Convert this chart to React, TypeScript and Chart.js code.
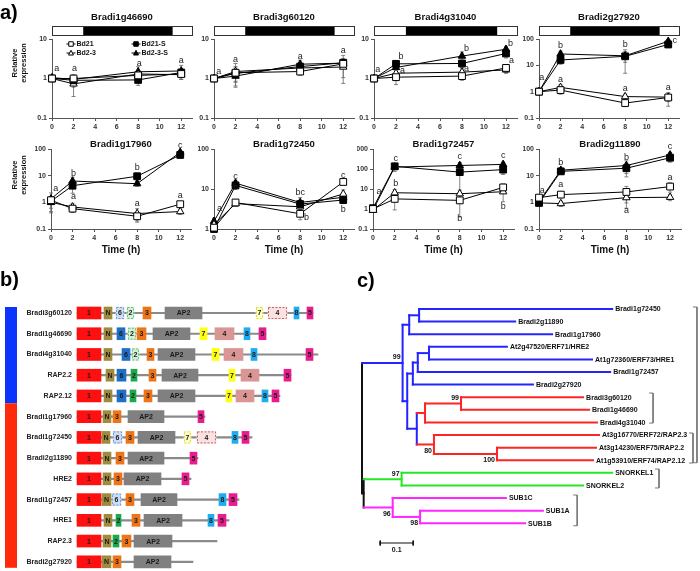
import React, { useEffect, useRef } from 'react';
import { Chart, registerables } from 'chart.js';

Chart.register(...registerables);
const FONT = '"Liberation Sans", Arial, Helvetica, sans-serif';
Chart.defaults.font.family = FONT;
Chart.defaults.color = '#222';

// ================= Panel a: expression time courses =================
const TIMES = [0, 2, 8, 12];
const SERIES_NAMES = ['Bd21', 'Bd21-S', 'Bd2-3', 'Bd2-3-S'];
const X_TICKS = [0, 2, 4, 6, 8, 10, 12];
const X_MAX = 13;
const DARK_START = 2.9;
const DARK_END = 11.2;

const GENES_A = ['Bradi1g46690', 'Bradi3g60120', 'Bradi4g31040', 'Bradi2g27920', 'Bradi1g17960', 'Bradi1g72450', 'Bradi1g72457', 'Bradi2g11890'];
const Y_MIN = [0.1, 0.1, 0.1, 0.1, 0.1, 1, 0.1, 0.1];
const Y_MAX = [10, 10, 10, 100, 100, 100, 1000, 100];
const Y_TICKS = [[0.1, 1, 10], [0.1, 1, 10], [0.1, 1, 10], [0.1, 1, 10, 100], [0.1, 1, 10, 100], [1, 10, 100], [0.1, 1, 10, 100, 1000], [0.1, 1, 10, 100]];

// values per series: [Bd21, Bd21-S, Bd2-3, Bd2-3-S] at times 0,2,8,12
const VAL_1g46690 = [[1.0, 1.0, 1.2, 1.3], [1.0, 0.9, 0.92, 1.42], [1.0, 0.73, 1.3, 1.25], [1.05, 0.95, 1.48, 1.55]];
const VAL_3g60120 = [[1.0, 1.4, 1.5, 2.35], [1.0, 1.35, 2.0, 2.5], [1.0, 1.5, 1.85, 1.95], [1.0, 1.15, 2.3, 2.45]];
const VAL_4g31040 = [[1.0, 1.08, 1.15, 1.85], [1.0, 2.35, 2.4, 4.3], [1.0, 1.36, 1.45, 1.65], [1.0, 1.9, 3.7, 5.5]];
const VAL_2g27920 = [[1.0, 1.15, 0.37, 0.6], [1.0, 16, 22, 62], [1.0, 1.45, 0.65, 0.62], [1.0, 27, 23, 82]];
const VAL_1g17960 = [[1.2, 0.58, 0.3, 0.85], [1.1, 4.2, 9.5, 60], [1.0, 0.67, 0.38, 0.45], [1.35, 6.3, 5.0, 75]];
const VAL_1g72450 = [[1.08, 4.6, 2.4, 15], [1.0, 12.3, 4.2, 5.3], [1.3, 4.3, 3.6, 7.5], [1.56, 14, 4.6, 6.2]];
const VAL_1g72457 = [[1.0, 3.2, 2.7, 12], [1.1, 136, 70, 93], [0.88, 6.5, 5.8, 7.3], [0.88, 125, 150, 170]];
const VAL_2g11890 = [[1.5, 1.95, 2.45, 3.9], [0.95, 14.5, 19, 47], [0.95, 0.9, 1.5, 1.55], [1.05, 16, 24, 60]];

const ERR_1g46690 = [[0.05, 0.25, 0.2, 0.25], [0.05, 0.3, 0.25, 0.2], [0.05, 0.38, 0.3, 0.3], [0.05, 0.2, 0.5, 0.6]];
const ERR_3g60120 = [[0.05, 0.6, 0.3, 0.4], [0.05, 0.5, 0.4, 0.6], [0.05, 0.9, 0.4, 1.2], [0.05, 0.5, 0.6, 1.4]];
const ERR_4g31040 = [[0.05, 0.38, 0.25, 0.4], [0.05, 0.4, 0.5, 1.0], [0.05, 0.3, 0.3, 0.3], [0.05, 0.4, 1.0, 1.0]];
const ERR_2g27920 = [[0.1, 0.35, 0.1, 0.32], [0.1, 5, 17, 15], [0.1, 0.4, 0.15, 0.2], [0.1, 8, 10, 12]];
const ERR_1g17960 = [[0.3, 0.15, 0.1, 0.1], [0.5, 2, 3, 15], [0.6, 0.25, 0.2, 0.1], [0.9, 2.5, 1, 12]];
const ERR_1g72450 = [[0.05, 0.8, 0.7, 2], [0.05, 2, 1, 1], [0.2, 0.6, 0.6, 2], [0.3, 2.5, 1.5, 1.5]];
const ERR_1g72457 = [[0.1, 2.3, 2.3, 6], [0.2, 40, 65, 40], [0.1, 3, 3, 5], [0.2, 50, 60, 50]];
const ERR_2g11890 = [[0.2, 0.5, 1.5, 1.5], [0.1, 3, 10, 15], [0.1, 0.2, 0.9, 0.4], [0.1, 3, 12, 15]];

// significance letters: [time, level, text]
const LET_1g46690 = [[0.45, 1.76, 'a'], [2.1, 1.76, 'a'], [8.1, 2.45, 'a'], [12, 2.8, 'a']];
const LET_3g60120 = [[0.45, 1.5, 'a'], [2, 3, 'a'], [8, 3.6, 'a'], [12, 5.1, 'a']];
const LET_4g31040 = [[0.35, 1.66, 'a'], [2.45, 3.5, 'b'], [2.6, 1.57, 'a'], [8.4, 5.9, 'b'], [8.4, 1.83, 'a'], [12.4, 7.9, 'b'], [12.5, 2.8, 'a']];
const LET_2g27920 = [[0.25, 3.4, 'a'], [2, 55, 'b'], [2, 2.9, 'a'], [8, 60, 'b'], [8, 1.35, 'a'], [12.6, 90, 'c'], [12, 1.45, 'a']];
const LET_1g17960 = [[0.45, 3.2, 'a'], [2.1, 12, 'b'], [2.1, 1.6, 'a'], [8, 21, 'b'], [8, 0.9, 'a'], [12, 135, 'c'], [12, 1.8, 'a']];
const LET_1g72450 = [[0.5, 3.2, 'a'], [2, 21, 'c'], [2, 11, 'b'], [8, 8, 'bc'], [8.6, 1.9, 'b'], [12, 22, 'c'], [12, 3.1, 'b']];
const LET_1g72457 = [[0.55, 7.6, 'a'], [2.1, 350, 'c'], [2.1, 17.8, 'b'], [8, 400, 'c'], [8, 0.33, 'b'], [12, 460, 'c'], [12, 1.35, 'b']];
const LET_2g11890 = [[0.3, 2.8, 'a'], [2, 31, 'b'], [2, 4.6, 'a'], [8, 50, 'b'], [8, 0.5, 'a'], [12, 125, 'c'], [12, 8.4, 'a']];

const A_VALUES = [VAL_1g46690, VAL_3g60120, VAL_4g31040, VAL_2g27920, VAL_1g17960, VAL_1g72450, VAL_1g72457, VAL_2g11890];
const A_ERRORS = [ERR_1g46690, ERR_3g60120, ERR_4g31040, ERR_2g27920, ERR_1g17960, ERR_1g72450, ERR_1g72457, ERR_2g11890];
const A_LETTERS: any[] = [LET_1g46690, LET_3g60120, LET_4g31040, LET_2g27920, LET_1g17960, LET_1g72450, LET_1g72457, LET_2g11890];

// layout (page px)
const PLOT_LEFT = [52, 214, 374, 539, 51, 214, 373, 539];
const PLOT_W = [140, 140, 143, 140, 140, 140, 141, 142];

function drawMarker(ctx: CanvasRenderingContext2D, kind: number, x: number, y: number, s: number) {
  const filled = kind === 1 || kind === 3;
  ctx.beginPath();
  if (kind < 2) {
    ctx.rect(x - s / 2, y - s / 2, s, s);
  } else {
    ctx.moveTo(x, y - s * 0.6);
    ctx.lineTo(x + s * 0.55, y + s * 0.45);
    ctx.lineTo(x - s * 0.55, y + s * 0.45);
    ctx.closePath();
  }
  ctx.fillStyle = filled ? '#000' : '#fff';
  ctx.fill();
  ctx.strokeStyle = '#000';
  ctx.lineWidth = 1;
  ctx.stroke();
}

function ExprChart({ i }: { i: number }) {
  const ref = useRef<HTMLCanvasElement>(null);
  const row = i < 4 ? 0 : 1;
  const plotLeft = PLOT_LEFT[i];
  const plotW = PLOT_W[i];
  const left = plotLeft - 52;
  const top = row === 0 ? 0 : 128;
  const width = 52 + plotW + 12;
  const height = row === 0 ? 135 : 134;

  useEffect(() => {
    const vals = A_VALUES[i];
    const errs = A_ERRORS[i];
    const lets = A_LETTERS[i];
    const yMin = Y_MIN[i];
    const yMax = Y_MAX[i];
    const styles = [
      { ps: 'rect', r: 4.8, bg: '#fff' },
      { ps: 'rect', r: 4.8, bg: '#000' },
      { ps: 'triangle', r: 4.3, bg: '#fff' },
      { ps: 'triangle', r: 4.3, bg: '#000' },
    ];
    const datasets = SERIES_NAMES.map((name, s) => ({
      label: name,
      data: TIMES.map((t, j) => ({ x: t, y: vals[s][j] })),
      borderColor: '#000',
      borderWidth: 1,
      backgroundColor: styles[s].bg,
      pointStyle: styles[s].ps,
      pointRadius: styles[s].r,
      pointBackgroundColor: styles[s].bg,
      pointBorderColor: '#000',
      pointBorderWidth: 1,
      tension: 0,
      fill: false,
      clip: false,
    }));

    const decor = {
      id: 'decor' + i,
      beforeDatasetsDraw(chart: any) {
        const ctx = chart.ctx;
        const ys = chart.scales.y;
        ctx.save();
        ctx.strokeStyle = '#666';
        ctx.lineWidth = 0.8;
        chart.data.datasets.forEach((_ds: any, s: number) => {
          const meta = chart.getDatasetMeta(s);
          meta.data.forEach((pt: any, j: number) => {
            const v = vals[s][j];
            const e = errs[s][j];
            const hi = ys.getPixelForValue(v + e);
            const lo = ys.getPixelForValue(Math.max(v - e, yMin));
            ctx.beginPath();
            ctx.moveTo(pt.x, lo);
            ctx.lineTo(pt.x, hi);
            ctx.moveTo(pt.x - 2, hi);
            ctx.lineTo(pt.x + 2, hi);
            ctx.moveTo(pt.x - 2, lo);
            ctx.lineTo(pt.x + 2, lo);
            ctx.stroke();
          });
        });
        ctx.restore();
      },
      afterDraw(chart: any) {
        const ctx = chart.ctx;
        const ca = chart.chartArea;
        const xs = chart.scales.x;
        const ys = chart.scales.y;
        ctx.save();
        // title
        ctx.fillStyle = '#111';
        ctx.font = `bold 9.5px ${FONT}`;
        ctx.textAlign = 'center';
        ctx.textBaseline = 'middle';
        ctx.fillText(GENES_A[i], (ca.left + ca.right) / 2, row === 0 ? 17 : 16);
        // light / dark bar
        if (row === 0) {
          const bx0 = Math.round(ca.left) + 0.5;
          const bx1 = Math.round(ca.right) + 0.5;
          ctx.fillStyle = '#fff';
          ctx.fillRect(bx0, 26.5, bx1 - bx0, 9);
          ctx.fillStyle = '#000';
          const d0 = xs.getPixelForValue(DARK_START);
          const d1 = xs.getPixelForValue(DARK_END);
          ctx.fillRect(d0, 26.5, d1 - d0, 9);
          ctx.strokeStyle = '#333';
          ctx.lineWidth = 1;
          ctx.strokeRect(bx0, 26.5, bx1 - bx0, 9);
        }
        // significance letters
        ctx.fillStyle = '#222';
        ctx.font = `9px ${FONT}`;
        lets.forEach((l: any) => {
          ctx.fillText(l[2], xs.getPixelForValue(l[0]), ys.getPixelForValue(l[1]));
        });
        // y title
        if (i === 0 || i === 4) {
          const cy = row === 0 ? 63 : 47;
          ctx.fillStyle = '#111';
          ctx.font = `bold 7.5px ${FONT}`;
          [['Relative', 15], ['expression', 24]].forEach(([txt, px]: any) => {
            ctx.save();
            ctx.translate(px - left, cy);
            ctx.rotate(-Math.PI / 2);
            ctx.fillText(txt, 0, 0);
            ctx.restore();
          });
        }
        // legend + panel letter
        if (i === 0) {
          const cols = [ca.left + 19, ca.left + 84];
          const rows = [ca.top + 5, ca.top + 14];
          const pos = [[0, 0], [1, 0], [0, 1], [1, 1]];
          ctx.font = `bold 7px ${FONT}`;
          ctx.textAlign = 'left';
          SERIES_NAMES.forEach((name, s) => {
            const mx = cols[pos[s][0]];
            const my = rows[pos[s][1]];
            ctx.strokeStyle = '#000';
            ctx.lineWidth = 1;
            ctx.beginPath();
            ctx.moveTo(mx - 4.5, my);
            ctx.lineTo(mx + 4.5, my);
            ctx.stroke();
            drawMarker(ctx, s, mx, my, 4.5);
            ctx.fillStyle = '#111';
            ctx.fillText(name, mx + 5.5, my);
          });
          ctx.font = `bold 20px ${FONT}`;
          ctx.fillStyle = '#000';
          ctx.fillText('a)', 0 - left, 13);
        }
        ctx.restore();
      },
    };

    const gridOpts = { drawOnChartArea: false, drawTicks: true, tickLength: 3, color: '#555' };
    const chart = new Chart(ref.current as HTMLCanvasElement, {
      type: 'line',
      data: { datasets: datasets as any },
      options: {
        animation: false,
        responsive: false,
        devicePixelRatio: 1,
        layout: { padding: { left: 36, right: 12, top: row === 0 ? 39 : 21, bottom: 0 } },
        plugins: { legend: { display: false }, tooltip: { enabled: false }, title: { display: false } },
        scales: {
          x: {
            type: 'linear',
            min: 0,
            max: X_MAX,
            afterBuildTicks: (ax: any) => { ax.ticks = X_TICKS.map((v) => ({ value: v })); },
            afterFit: (ax: any) => { ax.height = row === 0 ? 17 : 33; },
            ticks: { font: { size: 7, weight: 'bold' }, color: '#333', padding: 2, maxRotation: 0, autoSkip: false },
            grid: gridOpts,
            border: { display: true, color: '#555', width: 1 },
            title: {
              display: row === 1,
              text: 'Time (h)',
              font: { size: 10, weight: 'bold' },
              color: '#111',
              padding: { top: 0, bottom: 6 },
            },
          },
          y: {
            type: 'logarithmic',
            min: yMin,
            max: yMax,
            afterBuildTicks: (ax: any) => { ax.ticks = Y_TICKS[i].map((v) => ({ value: v })); },
            afterFit: (ax: any) => { ax.width = 16; },
            ticks: { font: { size: 7, weight: 'bold' }, color: '#333', padding: 2, callback: (v: any) => String(v) },
            grid: gridOpts,
            border: { display: true, color: '#555', width: 1 },
          },
        },
      } as any,
      plugins: [decor],
    });
    return () => chart.destroy();
  }, [i]);

  return (
    <canvas
      ref={ref}
      width={width}
      height={height}
      style={{ position: 'absolute', left, top, width, height }}
    />
  );
}

// ================= Panel b: domain structure =================
const B_GENES = ['Bradi3g60120', 'Bradi1g46690', 'Bradi4g31040', 'RAP2.2', 'RAP2.12', 'Bradi1g17960', 'Bradi1g72450', 'Bradi2g11890', 'HRE2', 'Bradi1g72457', 'HRE1', 'RAP2.3', 'Bradi2g27920'];
const B_GROUP_BLUE_LAST = 4; // rows 0..4 in blue group, rest red
const B_LEN = [472, 378, 482, 428, 406, 256, 350, 242, 228, 324, 304, 280, 232];
const N_ = null;
const D_1 = [[0, 48], [0, 48], [0, 48], [0, 48], [0, 48], [0, 48], [0, 48], [0, 48], [0, 48], [0, 48], [0, 48], [0, 48], [0, 48]];
const D_N = [[54, 70], [54, 70], [54, 70], [58, 74], [54, 70], [52, 68], [50, 66], [52, 68], [52, 68], [50, 68], [54, 70], [52, 68], [50, 68]];
const D_6 = [N_, [80, 96], [90, 106], [80, 98], [80, 98], N_, N_, N_, N_, N_, N_, N_, N_];
const D_6P = [[78, 94], N_, N_, N_, N_, N_, [72, 90], N_, N_, [70, 88], N_, N_, N_];
const D_2 = [N_, N_, N_, [108, 120], [106, 118], N_, N_, N_, N_, N_, [78, 88], [72, 84], N_];
const D_2P = [[100, 114], [102, 118], [110, 124], N_, N_, N_, N_, N_, N_, N_, N_, N_, N_];
const D_3 = [[132, 148], [120, 138], [140, 154], [144, 158], [134, 150], [72, 88], [98, 114], [78, 94], [74, 90], [98, 114], [110, 126], [90, 108], [72, 88]];
const D_AP2 = [[176, 250], [152, 226], [162, 236], [170, 242], [162, 236], [102, 174], [122, 196], [102, 174], [94, 168], [128, 200], [134, 210], [114, 190], [114, 188]];
const D_7 = [N_, [246, 260], [270, 284], [304, 316], [298, 310], N_, N_, N_, N_, N_, N_, N_, N_];
const D_7P = [[358, 372], N_, N_, N_, N_, N_, [214, 228], N_, N_, N_, N_, N_, N_];
const D_4 = [N_, [276, 314], [294, 332], [328, 364], [318, 354], N_, N_, N_, N_, N_, N_, N_, N_];
const D_4P = [[382, 420], N_, N_, N_, N_, N_, [240, 278], N_, N_, N_, N_, N_, N_];
const D_8 = [[434, 444], [334, 346], [348, 360], N_, [370, 382], N_, [310, 322], N_, N_, [284, 298], [262, 274], N_, N_];
const D_5 = [[460, 472], [364, 378], [458, 472], [414, 428], [390, 404], [242, 254], [330, 344], [226, 240], [210, 224], [304, 320], [282, 298], N_, N_];

const DOMAIN_LABELS = ['1', 'N', '6', '6', '2', '2', '3', 'AP2', '7', '7', '4', '4', '8', '5'];
const DOMAIN_DATA = [D_1, D_N, D_6, D_6P, D_2, D_2P, D_3, D_AP2, D_7, D_7P, D_4, D_4P, D_8, D_5];
const DOMAIN_FILL = ['#ff1010', '#a08a3e', '#1f6fc6', '#cfdcf2', '#1aaa4c', '#d5eed6', '#ee7418', '#808080', '#ffff10', '#ffffc8', '#d99694', '#fbe2e2', '#1eaeef', '#e81c8c'];
const DOMAIN_DASH = [false, false, false, true, false, true, false, false, false, true, false, true, false, false];
const DOMAIN_EDGE = ['', '', '', '#6f9ad8', '', '#6cc07a', '', '', '', '#e0d840', '', '#c06868', '', ''];

function DomainChart() {
  const ref = useRef<HTMLCanvasElement>(null);
  useEffect(() => {
    const datasets: any[] = [
      {
        label: 'backbone',
        data: B_LEN.map((e) => [0, e]),
        backgroundColor: '#8a8a8a',
        barThickness: 1.5,
        grouped: false,
        order: 5,
        clip: false,
        _kind: 'backbone',
      },
    ];
    DOMAIN_DATA.forEach((d, k) => {
      datasets.push({
        label: DOMAIN_LABELS[k],
        data: d,
        backgroundColor: DOMAIN_FILL[k],
        borderWidth: 0,
        barThickness: 12,
        grouped: false,
        order: 1,
        clip: false,
        _dash: DOMAIN_DASH[k],
        _edge: DOMAIN_EDGE[k],
      });
    });

    const decor = {
      id: 'domainDecor',
      afterDatasetsDraw(chart: any) {
        const ctx = chart.ctx;
        ctx.save();
        chart.data.datasets.forEach((ds: any, di: number) => {
          if (ds._kind === 'backbone') return;
          const meta = chart.getDatasetMeta(di);
          meta.data.forEach((el: any, j: number) => {
            if (ds.data[j] == null) return;
            const p = el.getProps(['x', 'y', 'base', 'height'], true);
            const l = Math.min(p.x, p.base);
            const r = Math.max(p.x, p.base);
            if (ds._dash) {
              ctx.setLineDash([2, 1.5]);
              ctx.strokeStyle = ds._edge;
              ctx.lineWidth = 1;
              ctx.strokeRect(l + 0.5, p.y - 6 + 0.5, r - l - 1, 11);
              ctx.setLineDash([]);
            }
            ctx.fillStyle = '#1a1a1a';
            ctx.font = `bold 7px ${FONT}`;
            ctx.textAlign = 'center';
            ctx.textBaseline = 'middle';
            ctx.fillText(ds.label, (l + r) / 2, p.y + 0.5);
          });
        });
        ctx.restore();
      },
      afterDraw(chart: any) {
        const ctx = chart.ctx;
        const ys = chart.scales.y;
        const c0 = ys.getPixelForValue(0);
        const cb = ys.getPixelForValue(B_GROUP_BLUE_LAST);
        const cr = ys.getPixelForValue(B_GROUP_BLUE_LAST + 1);
        const cl = ys.getPixelForValue(B_GENES.length - 1);
        const mid = (cb + cr) / 2 - 3;
        ctx.save();
        ctx.fillStyle = '#0a35ff';
        ctx.fillRect(5, c0 - 6, 12, mid - (c0 - 6));
        ctx.fillStyle = '#ff2a0a';
        ctx.fillRect(5, mid, 12, cl + 6 - mid);
        ctx.fillStyle = '#000';
        ctx.font = `bold 20px ${FONT}`;
        ctx.textAlign = 'left';
        ctx.textBaseline = 'middle';
        ctx.fillText('b)', 0, 12);
        ctx.restore();
      },
    };

    const chart = new Chart(ref.current as HTMLCanvasElement, {
      type: 'bar',
      data: { labels: B_GENES, datasets },
      options: {
        indexAxis: 'y',
        animation: false,
        responsive: false,
        devicePixelRatio: 1,
        layout: { padding: { left: 0, right: 0, top: 45, bottom: 9 } },
        plugins: { legend: { display: false }, tooltip: { enabled: false } },
        scales: {
          x: { type: 'linear', display: false, min: 0, max: 526 },
          y: {
            type: 'category',
            offset: false,
            afterFit: (ax: any) => { ax.width = 77; },
            grid: { display: false, drawTicks: false, offset: false },
            border: { display: false },
            ticks: { font: { size: 7, weight: 'bold' }, color: '#222', padding: 5, autoSkip: false },
          },
        },
      } as any,
      plugins: [decor],
    });
    return () => chart.destroy();
  }, []);
  return <canvas ref={ref} width={340} height={303} style={{ position: 'absolute', left: 0, top: 268, width: 340, height: 303 }} />;
}

// ================= Panel c: phylogenetic tree =================
const LEAF_NAMES = ['Bradi1g72450', 'Bradi2g11890', 'Bradi1g17960', 'At2g47520/ERF71/HRE2', 'At1g72360/ERF73/HRE1', 'Bradi1g72457', 'Bradi2g27920', 'Bradi3g60120', 'Bradi1g46690', 'Bradi4g31040', 'At3g16770/ERF72/RAP2.3', 'At3g14230/ERF75/RAP2.2', 'At1g53910/ERF74/RAP2.12', 'SNORKEL1', 'SNORKEL2', 'SUB1C', 'SUB1A', 'SUB1B'];
const LEAF_DEPTH = [0.758, 0.464, 0.576, 0.439, 0.697, 0.752, 0.518, 0.670, 0.688, 0.712, 0.718, 0.709, 0.700, 0.758, 0.670, 0.436, 0.548, 0.494];
const LEAF_CLADE = ['b', 'b', 'b', 'b', 'b', 'b', 'b', 'r', 'r', 'r', 'r', 'r', 'r', 'g', 'g', 'm', 'm', 'm'];
const NODE_IDS = ['A', 'B', 'C', 'D', 'E', 'GA', 'G', 'R1', 'R', 'H', 'I', 'J', 'S', 'U1', 'U', 'K', 'ROOT'];
const NODE_KIDS = [['L0', 'L1'], ['A', 'L2'], ['L3', 'L4'], ['C', 'L5'], ['D', 'L6'], ['L7', 'L8'], ['GA', 'L9'], ['L11', 'L12'], ['L10', 'R1'], ['G', 'R'], ['E', 'H'], ['B', 'I'], ['L13', 'L14'], ['L16', 'L17'], ['L15', 'U1'], ['S', 'U'], ['J', 'K']];
const NODE_DEPTH = [0.173, 0.143, 0.203, 0.169, 0.154, 0.300, 0.191, 0.409, 0.218, 0.166, 0.137, 0.123, 0.120, 0.176, 0.093, 0.005, 0.0];
const NODE_CLADE = ['b', 'b', 'b', 'b', 'b', 'r', 'r', 'r', 'r', 'b', 'b', 'b', 'g', 'm', 'm', 'k', 'k'];
const NODE_SUPPORT = ['', '', '', '', '', '99', '', '100', '80', '', '', '99', '97', '98', '96', '', ''];
const SUPPORT_BELOW = [false, false, false, false, false, false, false, true, true, false, false, false, false, true, true, false, false];
const CLADE_COLOR: Record<string, string> = { b: '#2424ff', r: '#ff2424', g: '#26e626', m: '#ff26ff', k: '#111111' };
const BR_TOP = [-0.16, 6.67, 9.84, 12.7, 14.76];
const BR_BOT = [12.2, 9.05, 12.22, 14.2, 17.2];
const BR_X = [1.015, 0.882, 1.003, 0.9, 0.652];
const SCALE_BAR = [0.055, 0.155];
const SCALE_BAR_Y = 18.57;
const SCALE_LABEL = '0.1';

function TreeChart() {
  const ref = useRef<HTMLCanvasElement>(null);
  useEffect(() => {
    const pos: Record<string, { x: number; y: number; c: string }> = {};
    LEAF_NAMES.forEach((_n, k) => { pos['L' + k] = { x: LEAF_DEPTH[k], y: k, c: LEAF_CLADE[k] }; });
    NODE_IDS.forEach((id, n) => {
      const kids = NODE_KIDS[n].map((c) => pos[c]);
      pos[id] = { x: NODE_DEPTH[n], y: (kids[0].y + kids[kids.length - 1].y) / 2, c: NODE_CLADE[n] };
    });
    const line = (pts: any[], color: string, w: number) => ({
      data: pts,
      showLine: true,
      borderColor: color,
      borderWidth: w,
      pointRadius: 0,
      borderCapStyle: 'square',
      clip: false,
    });
    const datasets: any[] = [];
    NODE_IDS.forEach((id, n) => {
      const nd = pos[id];
      const kids = NODE_KIDS[n].map((c) => pos[c]);
      kids.forEach((kd) => {
        datasets.push(line([{ x: nd.x, y: kd.y }, { x: kd.x, y: kd.y }], CLADE_COLOR[kd.c], 2));
      });
      datasets.push(line([{ x: nd.x, y: kids[0].y }, { x: nd.x, y: kids[kids.length - 1].y }], CLADE_COLOR[nd.c], 2));
    });
    const tick = 0.012;
    BR_X.forEach((bx, k) => {
      datasets.push({
        data: [{ x: bx - tick, y: BR_TOP[k] }, { x: bx, y: BR_TOP[k] }, { x: bx, y: BR_BOT[k] }, { x: bx - tick, y: BR_BOT[k] }],
        showLine: true, borderColor: '#777', borderWidth: 1, pointRadius: 0, clip: false,
      });
    });
    datasets.push(line([{ x: SCALE_BAR[0], y: SCALE_BAR_Y }, { x: SCALE_BAR[1], y: SCALE_BAR_Y }], '#111', 1.2));
    datasets.push(line([{ x: SCALE_BAR[0], y: SCALE_BAR_Y - 0.18 }, { x: SCALE_BAR[0], y: SCALE_BAR_Y + 0.18 }], '#111', 1));
    datasets.push(line([{ x: SCALE_BAR[1], y: SCALE_BAR_Y - 0.18 }, { x: SCALE_BAR[1], y: SCALE_BAR_Y + 0.18 }], '#111', 1));

    const decor = {
      id: 'treeDecor',
      afterDraw(chart: any) {
        const ctx = chart.ctx;
        const xs = chart.scales.x;
        const ys = chart.scales.y;
        ctx.save();
        ctx.fillStyle = '#111';
        ctx.font = `bold 7px ${FONT}`;
        ctx.textBaseline = 'middle';
        ctx.textAlign = 'left';
        LEAF_NAMES.forEach((name, k) => {
          ctx.fillText(name, xs.getPixelForValue(LEAF_DEPTH[k]) + 3, ys.getPixelForValue(k) + 0.5);
        });
        ctx.textAlign = 'right';
        NODE_IDS.forEach((id, n) => {
          if (!NODE_SUPPORT[n]) return;
          const nd = pos[id];
          const px = xs.getPixelForValue(nd.x) - 2;
          const py = ys.getPixelForValue(nd.y) + (SUPPORT_BELOW[n] ? 6.5 : -5.5);
          ctx.fillText(NODE_SUPPORT[n], px, py);
        });
        ctx.textAlign = 'center';
        ctx.fillText(SCALE_LABEL, xs.getPixelForValue((SCALE_BAR[0] + SCALE_BAR[1]) / 2), ys.getPixelForValue(SCALE_BAR_Y) + 7);
        ctx.font = `bold 20px ${FONT}`;
        ctx.fillStyle = '#000';
        ctx.textAlign = 'left';
        ctx.fillText('c)', 17, 13);
        ctx.restore();
      },
    };

    const chart = new Chart(ref.current as HTMLCanvasElement, {
      type: 'scatter',
      data: { datasets },
      options: {
        animation: false,
        responsive: false,
        devicePixelRatio: 1,
        layout: { padding: 0 },
        plugins: { legend: { display: false }, tooltip: { enabled: false } },
        scales: {
          x: { type: 'linear', display: false, min: -0.0667, max: 1.0242 },
          y: { type: 'linear', display: false, min: -3.254, max: 20.79, reverse: true },
        },
      } as any,
      plugins: [decor],
    });
    return () => chart.destroy();
  }, []);
  return <canvas ref={ref} width={360} height={303} style={{ position: 'absolute', left: 340, top: 268, width: 360, height: 303 }} />;
}

export default function App() {
  return (
    <div style={{ position: 'absolute', left: 0, top: 0, width: 700, height: 571, background: '#fff', overflow: 'hidden' }}>
      {GENES_A.map((g, i) => <ExprChart key={g} i={i} />)}
      <DomainChart />
      <TreeChart />
    </div>
  );
}
